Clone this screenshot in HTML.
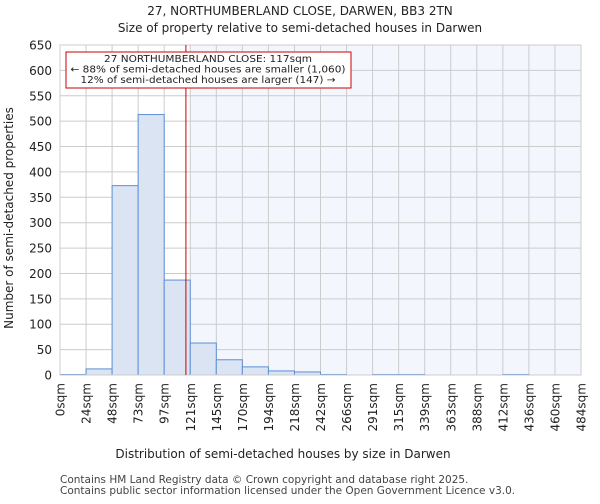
<!DOCTYPE html>
<html><head><meta charset="utf-8"><style>
body{margin:0;background:#fff;font-family:"DejaVu Sans","Liberation Sans",sans-serif;}
</style></head><body>
<svg width="600" height="500" xmlns="http://www.w3.org/2000/svg" font-family="DejaVu Sans, Liberation Sans, sans-serif">
<text x="300" y="15" text-anchor="middle" font-size="12" fill="#222">27, NORTHUMBERLAND CLOSE, DARWEN, BB3 2TN</text>
<text x="300" y="32" text-anchor="middle" font-size="12" fill="#222">Size of property relative to semi-detached houses in Darwen</text>
<g id="plot"></g>
<text x="283" y="458" text-anchor="middle" font-size="12" fill="#222">Distribution of semi-detached houses by size in Darwen</text>
<text transform="translate(13,218) rotate(-90)" text-anchor="middle" font-size="12" fill="#222">Number of semi-detached properties</text>
<text x="60" y="483" font-size="10.5" fill="#444">Contains HM Land Registry data © Crown copyright and database right 2025.</text>
<text x="60" y="494" font-size="10.5" fill="#444">Contains public sector information licensed under the Open Government Licence v3.0.</text>
</svg>
<script>
const categories=["0sqm","24sqm","48sqm","73sqm","97sqm","121sqm","145sqm","170sqm","194sqm","218sqm","242sqm","266sqm","291sqm","315sqm","339sqm","363sqm","388sqm","412sqm","436sqm","460sqm","484sqm"];
const binEdges=[0,24,48,73,97,121,145,170,194,218,242,266,291,315,339,363,388,412,436,460,484];
const counts=[1,12,373,513,187,63,30,16,8,6,1,0,1,1,0,0,0,1,0,0];
const yTicks=[0,50,100,150,200,250,300,350,400,450,500,550,600,650];
const propertySize=117;
const NS="http://www.w3.org/2000/svg";
const g=document.getElementById('plot');
const X0=60,X1=581,Y0=375,Y1=45,nb=counts.length,bw=(X1-X0)/nb;
const xb=i=>X0+i*bw;
const y=v=>Y0-(v/650)*(Y0-Y1);
function xs(v){for(let i=0;i<binEdges.length-1;i++){if(v<=binEdges[i+1])return xb(i)+bw*(v-binEdges[i])/(binEdges[i+1]-binEdges[i]);}return X1;}
function el(t,a){const e=document.createElementNS(NS,t);for(const k in a)e.setAttribute(k,a[k]);g.appendChild(e);return e;}
let bg=el('rect',{x:X0,y:Y1,width:X1-X0,height:Y0-Y1,fill:'#fff'});


let firstLarger=binEdges.findIndex(e=>e>propertySize);
let sh=el('rect',{x:xb(firstLarger),y:Y1,width:X1-xb(firstLarger),height:Y0-Y1,fill:'#f4f6fd'});


for(let i=0;i<=nb;i++){let l=el('line',{x1:xb(i),x2:xb(i),y1:Y1,y2:Y0,stroke:'#cccccc','stroke-width':1});

}
yTicks.forEach(t=>{let l=el('line',{x1:X0,x2:X1,y1:y(t),y2:y(t),stroke:'#cccccc','stroke-width':1});


let tx=el('text',{x:X0-8,y:y(t)+4.5,'text-anchor':'end','font-size':12,fill:'#222'});tx.textContent=t;

});
counts.forEach((c,i)=>{let r=el('rect',{x:xb(i),y:y(c),width:bw,height:Y0-y(c),fill:'#dbe4f3',stroke:'#5b8fd6','stroke-width':1});

});
categories.forEach((c,i)=>{let tx=el('text',{transform:`translate(${xb(i)+4.5},383) rotate(-90)`,'text-anchor':'end','font-size':12,fill:'#222'});tx.textContent=c;

});
let ax=el('rect',{x:X0,y:Y1,width:X1-X0,height:Y0-Y1,fill:'none',stroke:'#cccccc'});


let px=xs(propertySize);
let rl=el('line',{x1:px,x2:px,y1:Y1,y2:Y0,stroke:'#cc0000','stroke-width':1});


let box=el('rect',{x:66,y:52,width:285,height:36,fill:'#fff',stroke:'#cc0000','stroke-width':1});


["27 NORTHUMBERLAND CLOSE: 117sqm","← 88% of semi-detached houses are smaller (1,060)","12% of semi-detached houses are larger (147) →"].forEach((s,i)=>{
let tx=el('text',{x:208,y:62+i*10.5,'text-anchor':'middle','font-size':10,fill:'#222',textLength:(i==0?208:i==1?275:255),lengthAdjust:'spacingAndGlyphs'});tx.textContent=s;

});
</script>
</body></html>
